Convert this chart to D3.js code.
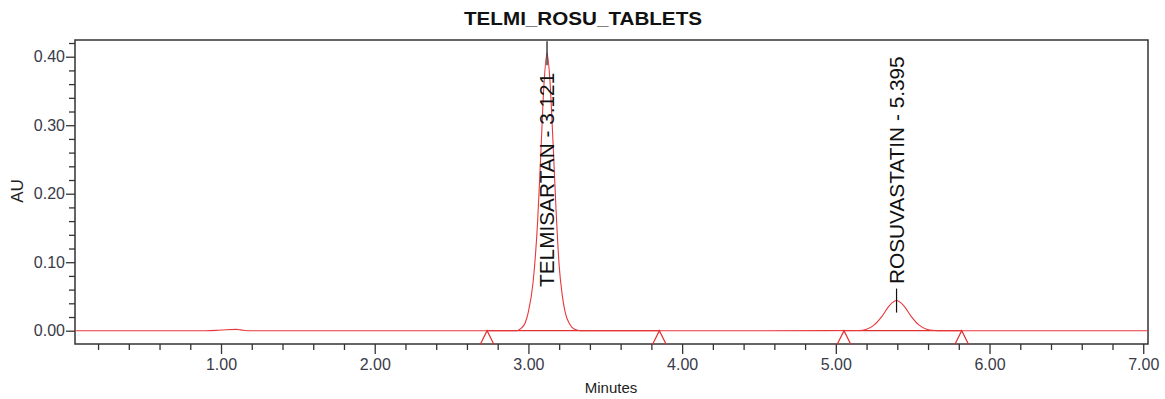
<!DOCTYPE html>
<html>
<head>
<meta charset="utf-8">
<script src="https://cdn.jsdelivr.net/npm/d3@7"></script>
<style>
  body { margin: 0; background: #fff; }
  text { font-family: "Liberation Sans", Arial, sans-serif; }
</style>
</head>
<body>
<div id="chart"></div>
<script>
// chromatogram readings (minutes, AU)
var traceMinutes = [0.05, 0.50, 0.90, 0.97, 1.03, 1.10, 1.13, 1.17, 1.60, 2.40, 2.92, 2.95, 2.98, 3.00, 3.03, 3.06, 3.08, 3.10, 3.121,
  3.14, 3.16, 3.18, 3.20, 3.22, 3.24, 3.27, 3.30, 3.34, 4.50, 5.15, 5.20, 5.25, 5.30, 5.35, 5.395, 5.44, 5.49, 5.54, 5.59, 5.64, 5.70, 6.50, 7.03];
var traceAU = [0.000, 0.000, 0.000, 0.0005, 0.0015, 0.002, 0.0012, 0.000, 0.000, 0.000, 0.000, 0.003, 0.012, 0.028, 0.070, 0.160, 0.255, 0.355, 0.405,
  0.365, 0.275, 0.175, 0.095, 0.052, 0.026, 0.009, 0.002, 0.000, 0.000, 0.0004, 0.0022, 0.0085, 0.021, 0.037, 0.044, 0.037, 0.021, 0.0085, 0.0022, 0.0004, 0.000, 0.000, 0.000];

var peakNames = ["TELMISARTAN", "ROSUVASTATIN"];
var peakTimes = [3.121, 5.395];
var peakHeights = [0.405, 0.044];
var peakStart = [2.731, 5.053];
var peakEnd = [3.852, 5.819];

var xMajorTicks = [1, 2, 3, 4, 5, 6, 7];
var yMajorTicks = [0.0, 0.1, 0.2, 0.3, 0.4];

var width = 1165, height = 399;
var margin = {top: 40, right: 17, bottom: 55, left: 75};

var svg = d3.select("#chart").append("svg")
  .attr("width", width)
  .attr("height", height);

var x = d3.scaleLinear().domain([0.05, 7.031]).range([margin.left, width - margin.right]);
var y = d3.scaleLinear().domain([-0.0194, 0.4244]).range([height - margin.bottom, margin.top]);

// title (stretched a bit wider like the export)
svg.append("text")
  .attr("x", 583).attr("y", 25)
  .attr("text-anchor", "middle")
  .attr("textLength", 238).attr("lengthAdjust", "spacingAndGlyphs")
  .style("font-weight", "bold").style("font-size", "18px")
  .attr("fill", "#111")
  .text("TELMI_ROSU_TABLETS");

// frame
svg.append("rect")
  .attr("x", margin.left).attr("y", margin.top)
  .attr("width", width - margin.right - margin.left)
  .attr("height", height - margin.bottom - margin.top)
  .attr("fill", "none").attr("stroke", "#333").attr("stroke-width", 1.5);

// x axis
var xMinor = d3.range(0.2, 7.01, 0.2).filter(d => Math.abs(d - Math.round(d)) > 0.01);
var xAxisMajor = d3.axisBottom(x).tickValues(xMajorTicks).tickSize(10).tickPadding(5).tickFormat(d3.format(".2f"));
var xAxisMinor = d3.axisBottom(x).tickValues(xMinor).tickSize(6).tickFormat("");

svg.append("g").attr("transform", `translate(0,${height - margin.bottom})`).call(xAxisMinor)
  .call(g => g.select(".domain").remove());
svg.append("g").attr("class", "xmaj").attr("transform", `translate(0,${height - margin.bottom})`).call(xAxisMajor)
  .call(g => g.select(".domain").remove());

// y axis
var yMinor = d3.range(0.02, 0.421, 0.02).filter(d => Math.abs(d * 10 - Math.round(d * 10)) > 0.01);
var yAxisMajor = d3.axisLeft(y).tickValues(yMajorTicks).tickSize(9).tickPadding(1).tickFormat(d3.format(".2f"));
var yAxisMinor = d3.axisLeft(y).tickValues(yMinor).tickSize(6).tickFormat("");

svg.append("g").attr("transform", `translate(${margin.left},0)`).call(yAxisMinor)
  .call(g => g.select(".domain").remove());
svg.append("g").attr("transform", `translate(${margin.left},0)`).call(yAxisMajor)
  .call(g => g.select(".domain").remove());

svg.selectAll(".tick line").attr("stroke", "#333").attr("stroke-width", 1.3);
svg.selectAll(".tick text").attr("fill", "#3a3a48").style("font-size", "16px")
  .style("font-family", "'Liberation Sans', Arial, sans-serif");

// axis titles
svg.append("text")
  .attr("transform", "translate(23,191) rotate(-90)")
  .attr("text-anchor", "middle")
  .style("font-size", "17px").attr("fill", "#222")
  .text("AU");

svg.append("text")
  .attr("x", 611).attr("y", 393)
  .attr("text-anchor", "middle")
  .style("font-size", "15px").attr("fill", "#222")
  .text("Minutes");

// integration baselines and markers
svg.append("clipPath").attr("id", "clip").append("rect")
  .attr("x", margin.left).attr("y", margin.top)
  .attr("width", width - margin.right - margin.left)
  .attr("height", height - margin.bottom - margin.top);

var plot = svg.append("g").attr("clip-path", "url(#clip)");

peakStart.forEach(function(s, i) {
  plot.append("line")
    .attr("x1", x(s)).attr("x2", x(peakEnd[i]))
    .attr("y1", y(0)).attr("y2", y(0))
    .attr("stroke", "#e03030").attr("stroke-width", 1.3);
  [s, peakEnd[i]].forEach(function(t) {
    svg.append("path")
      .attr("d", `M${x(t) - 7},${y(0) + 14}L${x(t)},${y(0)}L${x(t) + 7},${y(0) + 14}`)
      .attr("fill", "none").attr("stroke", "#e03030").attr("stroke-width", 1.2);
  });
});

// trace
var trace = traceMinutes.map((t, i) => [t, traceAU[i]]);
var line = d3.line().x(d => x(d[0])).y(d => y(d[1])).curve(d3.curveMonotoneX);

plot.append("path")
  .datum(trace)
  .attr("d", line)
  .attr("fill", "none")
  .attr("stroke", "#e8383c")
  .attr("stroke-width", 1.1);

// peak labels
var labelBottom = [287, 284];
peakTimes.forEach(function(t, i) {
  svg.append("line")
    .attr("x1", x(t)).attr("x2", x(t))
    .attr("y1", y(peakHeights[i]) - 12).attr("y2", y(peakHeights[i]) + 12)
    .attr("stroke", "#111").attr("stroke-width", 1.2);
  svg.append("text")
    .attr("transform", `translate(${x(t) + 7},${labelBottom[i]}) rotate(-90)`)
    .style("font-size", "20.8px").attr("fill", "#111")
    .text(peakNames[i] + " - " + d3.format(".3f")(t));
});
</script>
</body>
</html>
